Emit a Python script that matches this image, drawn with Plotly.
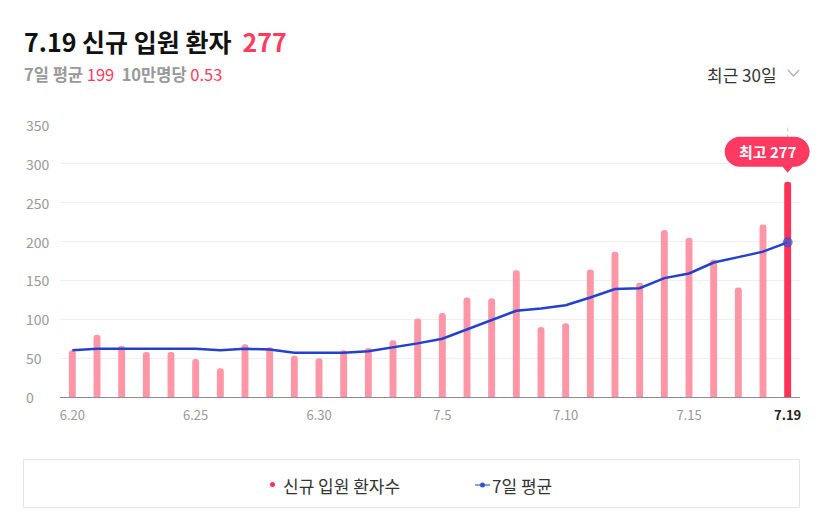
import plotly.graph_objects as go

# 신규 입원 환자 (6.20 ~ 7.19)
dates = ["6.20", "6.21", "6.22", "6.23", "6.24", "6.25", "6.26", "6.27", "6.28", "6.29",
         "6.30", "7.1", "7.2", "7.3", "7.4", "7.5", "7.6", "7.7", "7.8", "7.9",
         "7.10", "7.11", "7.12", "7.13", "7.14", "7.15", "7.16", "7.17", "7.18", "7.19"]
new_admissions = [60, 80, 66, 58, 58, 49, 37, 68, 64, 53,
                  50, 60, 63, 73, 101, 108, 128, 127, 163, 90,
                  95, 164, 187, 147, 215, 205, 177, 141, 222, 277]
avg_7day = [60, 62, 62, 62, 62, 62, 60, 62, 61, 57,
            57, 57, 59, 64, 69, 75, 87, 98, 111, 114,
            118, 128, 139, 140, 153, 159, 173, 180, 187, 199]
shown_ticks = ["6.20", "6.25", "6.30", "7.5", "7.10", "7.15", "7.19"]
y_ticks = [0, 50, 100, 150, 200, 250, 300, 350]

FONT = "Noto Sans CJK KR"
RED = "#ff3b5e"
PINK = "#ff96a7"
BLUE = "#2341cf"

# plot area in pixels, used to place header / legend box
PL, PR, PT, PB = 60, 800, 125, 397
def px_x(p):
    return (p - PL) / (PR - PL)
def px_y(p):
    return (PB - p) / (PB - PT)

xs = list(range(len(dates)))
bar_colors = [PINK] * (len(dates) - 1) + ["#ff3358"]

fig = go.Figure()
fig.add_trace(go.Bar(x=xs, y=new_admissions, width=0.28, marker=dict(color=bar_colors, line=dict(width=0)),
                     showlegend=False, name="신규 입원 환자수"))
fig.add_trace(go.Scatter(x=xs, y=avg_7day, mode="lines+markers", line=dict(color=BLUE, width=2.5),
                         marker=dict(size=[0] * (len(dates) - 1) + [9], color="#3a57d6"),
                         showlegend=False, name="7일 평균"))

tick_idx = [dates.index(d) for d in shown_ticks]
tick_txt = [d if d != "7.19" else "<b><span style='color:#222'>7.19</span></b>" for d in shown_ticks]

fig.update_xaxes(range=[-0.5, 29.5], tickvals=tick_idx, ticktext=tick_txt, showgrid=False,
                 showline=True, linecolor="#8c8c8c", linewidth=1, zeroline=False,
                 tickfont=dict(size=13, color="#999999", family=FONT), ticklabelstandoff=6)
fig.update_yaxes(range=[0, 350], tickvals=y_ticks, showticklabels=False, showgrid=True,
                 gridcolor="#efefef", gridwidth=1, zeroline=False)

annos = []
for v in y_ticks:
    annos.append(dict(x=px_x(24), xref="paper", y=v, yref="y", text=str(v), showarrow=False,
                      xanchor="left", yanchor="middle", font=dict(size=14, color="#999999", family=FONT)))

# header
annos.append(dict(x=px_x(22), y=px_y(41), xref="paper", yref="paper", xanchor="left", yanchor="middle",
                  showarrow=False, font=dict(size=25, color="#111111", family=FONT),
                  text="<b>7.19 신규 입원 환자</b>  <b><span style='color:%s'>277</span></b>" % RED))
annos.append(dict(x=px_x(22), y=px_y(74), xref="paper", yref="paper", xanchor="left", yanchor="middle",
                  showarrow=False, font=dict(size=16.5, color="#999999", family=FONT),
                  text="<b>7일 평균</b> <span style='color:%s'>199</span>  <b>10만명당</b> <span style='color:%s'>0.53</span>" % (RED, RED)))
annos.append(dict(x=px_x(779), y=px_y(74), xref="paper", yref="paper", xanchor="right", yanchor="middle",
                  showarrow=False, font=dict(size=17, color="#333333", family=FONT), text="최근 30일"))

# 최고 tooltip
annos.append(dict(x=29, y=277, xref="x", yref="y", xshift=-20, yshift=30, showarrow=False,
                  xanchor="center", yanchor="middle", text="<b>최고 277</b>",
                  font=dict(size=15, color="white", family=FONT)))

# legend (drawn by hand inside the box)
annos.append(dict(x=px_x(281), y=px_y(485), xref="paper", yref="paper", xanchor="left", yanchor="middle",
                  showarrow=False, font=dict(size=17, color="#333333", family=FONT), text="신규 입원 환자수"))
annos.append(dict(x=px_x(490), y=px_y(485), xref="paper", yref="paper", xanchor="left", yanchor="middle",
                  showarrow=False, font=dict(size=17, color="#333333", family=FONT), text="7일 평균"))

# pill sits over the right edge of the plot, so anchor it in paper coords (not clipped)
last_x = px_x(PL + (len(dates) - 1 + 0.5) * (PR - PL) / len(dates))
last_y = new_admissions[-1] / 350

shapes = [
    # dotted guide above the last bar
    dict(type="line", xref="x", yref="y", x0=29, x1=29, y0=334, y1=350,
         line=dict(color="#c4c4c4", width=1, dash="dot")),
    # pill
    dict(type="path", xref="paper", yref="paper", xsizemode="pixel", ysizemode="pixel",
         xanchor=last_x, yanchor=last_y,
         path="M -48,15 L -5,15 L 0,9 L 5,15 L 7,15 C 15,15 22,22 22,30 C 22,38 15,45 7,45 "
              "L -48,45 C -56,45 -63,38 -63,30 C -63,22 -56,15 -48,15 Z",
         fillcolor="#ff3a62", line=dict(width=0), layer="above"),
    # chevron next to 최근 30일
    dict(type="path", xref="paper", yref="paper",
         path="M %f,%f L %f,%f L %f,%f" % (px_x(788), px_y(70), px_x(793.5), px_y(76), px_x(799), px_y(70)),
         line=dict(color="#b0b0b0", width=1.3)),
    # legend box
    dict(type="rect", xref="paper", yref="paper", x0=px_x(23.5), x1=px_x(799.5), y0=px_y(459.5), y1=px_y(507.5),
         line=dict(color="#e4e4e4", width=1), fillcolor="rgba(0,0,0,0)"),
    # legend symbols
    dict(type="circle", xref="paper", yref="paper", x0=px_x(270), x1=px_x(275), y0=px_y(482), y1=px_y(487),
         fillcolor="#ff3358", line=dict(width=0)),
    dict(type="line", xref="paper", yref="paper", x0=px_x(475), x1=px_x(490), y0=px_y(485), y1=px_y(485),
         line=dict(color="#8a9ce2", width=2)),
    dict(type="circle", xref="paper", yref="paper", x0=px_x(480), x1=px_x(485), y0=px_y(482.5), y1=px_y(487.5),
         fillcolor="#3552d0", line=dict(width=0)),
]

fig.update_layout(
    width=823, height=521,
    margin=dict(l=PL, r=823 - PR, t=PT, b=521 - PB),
    paper_bgcolor="white", plot_bgcolor="white",
    font=dict(family=FONT),
    barcornerradius=4,
    annotations=annos, shapes=shapes,
    showlegend=False,
    hovermode=False,
)

fig.write_html("out.html", config={"displayModeBar": False},
               post_script="document.body.style.margin='0';")
